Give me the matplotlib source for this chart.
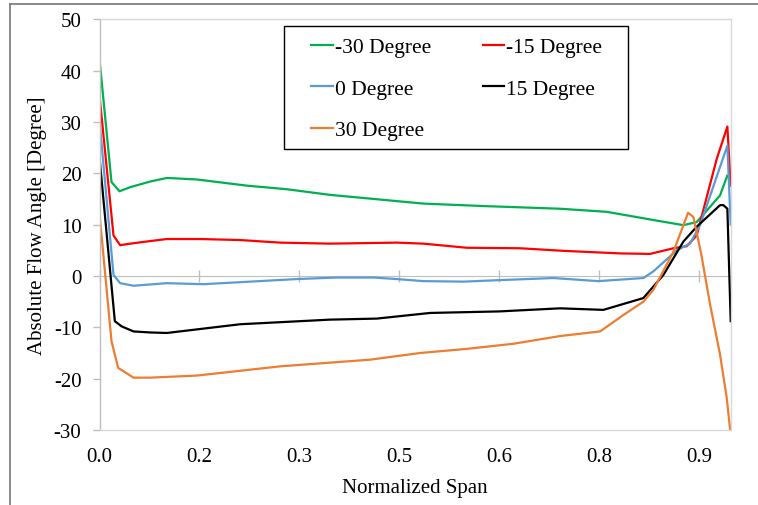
import matplotlib
matplotlib.use("Agg")
import matplotlib.pyplot as plt
from matplotlib.lines import Line2D
from matplotlib.patches import Rectangle

plt.rcParams['font.family'] = ['Liberation Serif', 'DejaVu Serif']
plt.rcParams['axes.unicode_minus'] = False

# Absolute flow angle along the normalized span for each inlet angle
series_names = ["-30 Degree", "-15 Degree", "0 Degree", "15 Degree", "30 Degree"]

span_m30 = [0, 0.018, 0.030, 0.046, 0.076, 0.101, 0.146, 0.221, 0.281, 0.346, 0.486,
            0.581, 0.691, 0.761, 0.831, 0.876, 0.896, 0.931, 0.942, 0.947]
angle_m30 = [42.2, 18.3, 16.5, 17.3, 18.4, 19.1, 18.8, 17.6, 16.9, 15.8, 14.1,
             13.6, 13.1, 12.5, 10.9, 9.9, 10.5, 15.7, 19.6, 18.6]

span_m15 = [0, 0.021, 0.031, 0.046, 0.076, 0.101, 0.151, 0.211, 0.271, 0.346, 0.446,
            0.486, 0.551, 0.631, 0.696, 0.781, 0.826, 0.861, 0.881, 0.896, 0.926,
            0.942, 0.947]
angle_m15 = [35.1, 7.9, 6.0, 6.3, 6.8, 7.2, 7.2, 7.0, 6.5, 6.3, 6.5,
             6.3, 5.5, 5.4, 4.9, 4.4, 4.3, 5.4, 5.8, 7.9, 22.8,
             29.1, 17.6]

span_0 = [0, 0.021, 0.031, 0.051, 0.101, 0.156, 0.296, 0.356, 0.411, 0.446, 0.486,
          0.546, 0.601, 0.681, 0.748, 0.816, 0.831, 0.866, 0.886, 0.901, 0.942, 0.947]
angle_0 = [30.2, 0.2, -1.4, -1.9, -1.4, -1.6, -0.6, -0.3, -0.3, -0.6, -1.0,
           -1.1, -0.8, -0.4, -1.0, -0.4, 0.9, 5.0, 6.3, 9.9, 25.4, 10.0]

span_p15 = [0, 0.023, 0.033, 0.051, 0.076, 0.101, 0.211, 0.346, 0.416, 0.496, 0.600,
            0.691, 0.756, 0.816, 0.846, 0.876, 0.896, 0.931, 0.936, 0.942, 0.947]
angle_p15 = [23.1, -8.8, -9.8, -10.8, -11.0, -11.1, -9.4, -8.5, -8.3, -7.2, -6.9,
             -6.3, -6.6, -4.3, 0.2, 6.7, 9.6, 13.8, 13.8, 13.1, -8.8]

span_p30 = [0, 0.018, 0.028, 0.051, 0.076, 0.146, 0.271, 0.406, 0.481, 0.551, 0.621,
            0.691, 0.751, 0.786, 0.816, 0.831, 0.861, 0.883, 0.891, 0.903, 0.916,
            0.931, 0.941, 0.946]
angle_p30 = [12.1, -12.7, -17.9, -19.8, -19.8, -19.4, -17.6, -16.3, -15.0, -14.2, -13.2,
             -11.7, -10.8, -7.6, -5.0, -2.7, 4.7, 12.3, 11.5, 4.1, -5.5,
             -15.3, -23.7, -29.8]

x_ticks = [0, 0.15, 0.30, 0.45, 0.60, 0.75, 0.90]
x_tick_labels = ["0.0", "0.2", "0.3", "0.5", "0.6", "0.8", "0.9"]
y_ticks = [-30, -20, -10, 0, 10, 20, 30, 40, 50]

colors = ["#00B050", "#FF0000", "#5B9BD5", "#000000", "#ED7D31"]
spans = [span_m30, span_m15, span_0, span_p15, span_p30]
angles = [angle_m30, angle_m15, angle_0, angle_p15, angle_p30]

W, H = 758, 506
AX_L, AX_R, AX_T, AX_B = 99.5, 730.7, 20.3, 431.0

fig = plt.figure(figsize=(W / 100, H / 100), dpi=100)
ax = fig.add_axes([AX_L / W, 1 - AX_B / H, (AX_R - AX_L) / W, (AX_B - AX_T) / H])


def ax_xy(px, py):
    """Pixel position in the figure -> axes fraction."""
    return (px - AX_L) / (AX_R - AX_L), (AX_B - py) / (AX_B - AX_T)


handles = []
for xs, ys, c, name in zip(spans, angles, colors, series_names):
    h, = ax.plot(xs, ys, color=c, lw=1.6, label=name, solid_joinstyle='round')
    handles.append(h)

ax.set_xlim(0, 0.947)
ax.set_ylim(-30, 50)

# plot-area border
for side in ["top", "right", "bottom"]:
    ax.spines[side].set_color("#D9D9D9")
    ax.spines[side].set_linewidth(1.0)
ax.spines["left"].set_color("#BFBFBF")
ax.spines["left"].set_linewidth(1.0)

ax.set_yticks(y_ticks)
ax.tick_params(axis="y", direction="out", length=5, width=1, color="#BFBFBF",
               labelsize=15, pad=8)
ax.set_xticks(x_ticks)
ax.set_xticklabels(x_tick_labels)
ax.tick_params(axis="x", length=0, labelsize=15, pad=12)

# horizontal axis crossing at zero
zero_ax = ax.secondary_xaxis(30 / 80)
zero_ax.set_xticks(x_ticks)
zero_ax.set_xticklabels([])
zero_ax.tick_params(axis="x", direction="inout", length=9, width=1, color="#BFBFBF")
zero_ax.spines["bottom"].set_color("#BFBFBF")
for sp in ["top", "left", "right"]:
    zero_ax.spines[sp].set_visible(False)

ax.set_xlabel("Normalized Span", fontsize=15, labelpad=9)
ax.set_ylabel("Absolute Flow Angle [Degree]", fontsize=15, labelpad=5)

# legend box
bx0, by0 = ax_xy(284, 150)
bx1, by1 = ax_xy(628, 27)
ax.add_patch(Rectangle((bx0, by0), bx1 - bx0, by1 - by0, transform=ax.transAxes,
                       facecolor="white", edgecolor="black", lw=1.0, zorder=5))

order = [0, 2, 4, 1, 3]
lx, ly = ax_xy(311, 38)
leg = ax.legend([handles[i] for i in order], [series_names[i] for i in order],
                ncol=2, loc="upper left", bbox_to_anchor=(lx, ly),
                prop={"size": 15.5}, frameon=False, handlelength=1.0,
                handletextpad=0.1, columnspacing=2.4, labelspacing=1.0,
                borderpad=0, borderaxespad=0)
leg.set_zorder(6)

# outer chart frame
fig.add_artist(Line2D([10 / W, 10 / W], [0, 1 - 5 / H], transform=fig.transFigure,
                      color="#808080", lw=1.3))
fig.add_artist(Line2D([10 / W, 1], [1 - 5 / H, 1 - 5 / H], transform=fig.transFigure,
                      color="#808080", lw=1.3))

fig.savefig("out.png", dpi=100)
